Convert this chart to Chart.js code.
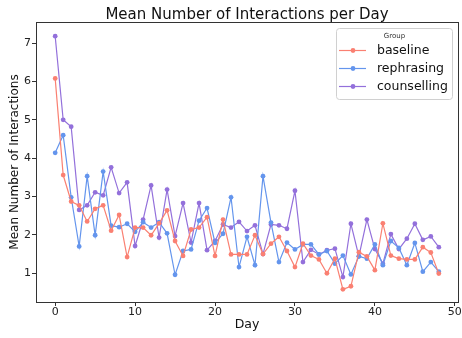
<!DOCTYPE html>
<html>
<head>
<meta charset="utf-8">
<script src="https://cdn.jsdelivr.net/npm/chart.js@4/dist/chart.umd.min.js"></script>
<style>
  html, body { margin: 0; padding: 0; background: #fff; }
  #wrap { width: 462px; height: 338px; }
</style>
</head>
<body>
<div id="wrap"><canvas id="c" width="462" height="338"></canvas></div>
<script>
// Daily mean interaction counts per study group
const days = [0,1,2,3,4,5,6,7,8,9,10,11,12,13,14,15,16,17,18,19,20,21,22,23,24,
              25,26,27,28,29,30,31,32,33,34,35,36,37,38,39,40,41,42,43,44,45,46,47,48];
const baseline = [6.08,3.56,2.87,2.77,2.35,2.68,2.77,2.11,2.52,1.42,2.19,2.19,1.99,2.30,2.64,1.84,1.45,
                  2.14,2.19,2.46,1.45,2.40,1.49,1.49,1.49,1.99,1.50,1.77,1.95,1.58,1.16,1.77,1.46,1.36,
                  1.00,1.38,0.58,0.66,1.55,1.44,1.08,2.30,1.46,1.38,1.36,1.36,1.68,1.54,0.99];
const rephrasing = [4.14,4.60,2.98,1.70,3.53,1.99,3.65,2.24,2.20,2.29,2.08,2.33,2.19,2.33,2.04,0.96,1.58,
                    1.62,2.37,2.70,1.79,2.03,2.98,1.16,1.95,1.21,3.53,2.32,1.29,1.80,1.62,1.75,1.75,1.49,
                    1.58,1.25,1.46,0.97,1.44,1.38,1.75,1.21,1.84,1.66,1.21,1.79,1.04,1.29,1.04];
const counselling = [7.18,5.00,4.82,2.65,2.77,3.11,3.03,3.76,3.09,3.37,1.71,2.40,3.29,1.93,3.18,1.97,2.83,
                     1.80,2.83,1.60,1.84,2.27,2.19,2.34,2.10,2.25,1.50,2.27,2.25,2.16,3.15,1.29,1.61,1.49,
                     1.60,1.64,0.90,2.29,1.44,2.40,1.63,1.25,2.02,1.63,1.90,2.29,1.87,1.96,1.68];
const groupNames = ['baseline', 'rephrasing', 'counselling'];
const groupColors = ['#fa8072', '#6495ed', '#9370db'];
const xTicks = [0, 10, 20, 30, 40, 50];
const yTicks = [1, 2, 3, 4, 5, 6, 7];
const chartTitle = 'Mean Number of Interactions per Day';

const FONT = '"DejaVu Sans", sans-serif';
const AXIS = '#333333';

function series(vals) {
  return vals.map((v, i) => ({ x: days[i], y: v }));
}

const datasets = [baseline, rephrasing, counselling].map((vals, i) => ({
  label: groupNames[i],
  data: series(vals),
  borderColor: groupColors[i],
  backgroundColor: groupColors[i],
  borderWidth: 1.2,
  pointRadius: 2.4,
  pointBorderWidth: 0,
  pointHoverRadius: 2.4,
  tension: 0,
  fill: false
}));

// Frame on all four sides of the plot area, plus the title centred over it
const framePlugin = {
  id: 'frame',
  afterDraw(chart) {
    const a = chart.chartArea, ctx = chart.ctx;
    ctx.save();
    ctx.strokeStyle = AXIS;
    ctx.lineWidth = 1;
    ctx.strokeRect(Math.round(a.left) + 0.5, Math.round(a.top) + 0.5,
                   Math.round(a.right - a.left), Math.round(a.bottom - a.top));
    ctx.fillStyle = '#111';
    ctx.font = '15px ' + FONT;
    ctx.textAlign = 'center';
    ctx.textBaseline = 'alphabetic';
    ctx.fillText(chartTitle, (a.left + a.right) / 2, 19);
    ctx.restore();
  }
};

// Boxed legend with a small title in the upper right of the plot area
const groupLegend = {
  id: 'groupLegend',
  afterDraw(chart) {
    const a = chart.chartArea, ctx = chart.ctx;
    const w = 116, h = 71;
    const x0 = a.right - w - 6, y0 = a.top + 6;
    ctx.save();
    ctx.beginPath();
    ctx.roundRect(x0 + 0.5, y0 + 0.5, w, h, 3);
    ctx.fillStyle = 'rgba(255,255,255,0.8)';
    ctx.fill();
    ctx.strokeStyle = '#d0d0d0';
    ctx.lineWidth = 1;
    ctx.stroke();
    ctx.fillStyle = '#333';
    ctx.font = '7px ' + FONT;
    ctx.textAlign = 'center';
    ctx.textBaseline = 'middle';
    ctx.fillText('Group', x0 + w / 2 + 0.5, y0 + 8.5);
    chart.data.datasets.forEach((ds, i) => {
      const cy = y0 + 22.5 + i * 18;
      ctx.strokeStyle = ds.borderColor;
      ctx.lineWidth = 1.2;
      ctx.beginPath();
      ctx.moveTo(x0 + 3, cy);
      ctx.lineTo(x0 + 30, cy);
      ctx.stroke();
      ctx.fillStyle = ds.backgroundColor;
      ctx.beginPath();
      ctx.arc(x0 + 17, cy, 2.4, 0, Math.PI * 2);
      ctx.fill();
      ctx.fillStyle = '#111';
      ctx.font = '12.5px ' + FONT;
      ctx.textAlign = 'left';
      ctx.fillText(ds.label, x0 + 41, cy + 0.5);
    });
    ctx.restore();
  }
};

new Chart(document.getElementById('c'), {
  type: 'line',
  data: { datasets },
  plugins: [framePlugin, groupLegend],
  options: {
    responsive: false,
    animation: false,
    events: [],
    layout: { padding: { left: 0, right: 4, top: 22, bottom: 0 } },
    plugins: {
      legend: { display: false },
      tooltip: { enabled: false },
      title: { display: false }
    },
    scales: {
      x: {
        type: 'linear',
        min: -2.4,
        max: 50.4,
        afterBuildTicks(scale) { scale.ticks = xTicks.map(v => ({ value: v })); },
        afterFit(scale) { scale.height = 36; },
        grid: { display: true, drawOnChartArea: false, drawTicks: true, tickLength: 4, color: AXIS },
        border: { display: false },
        ticks: { color: '#222', font: { family: FONT, size: 11 }, padding: 0, maxRotation: 0 },
        title: {
          display: true, text: 'Day', color: '#111',
          font: { family: FONT, size: 12.5 }, padding: { top: 5.5, bottom: 5.5 }
        }
      },
      y: {
        type: 'linear',
        min: 0.25,
        max: 7.55,
        afterBuildTicks(scale) { scale.ticks = yTicks.map(v => ({ value: v })); },
        afterFit(scale) { scale.width = 36; },
        grid: { display: true, drawOnChartArea: false, drawTicks: true, tickLength: 4, color: AXIS },
        border: { display: false },
        ticks: { color: '#222', font: { family: FONT, size: 11 }, padding: 1 },
        title: {
          display: true, text: 'Mean Number of Interactions', color: '#111',
          font: { family: FONT, size: 12 }, padding: { top: 8, bottom: 8 }
        }
      }
    }
  }
});
</script>
</body>
</html>
